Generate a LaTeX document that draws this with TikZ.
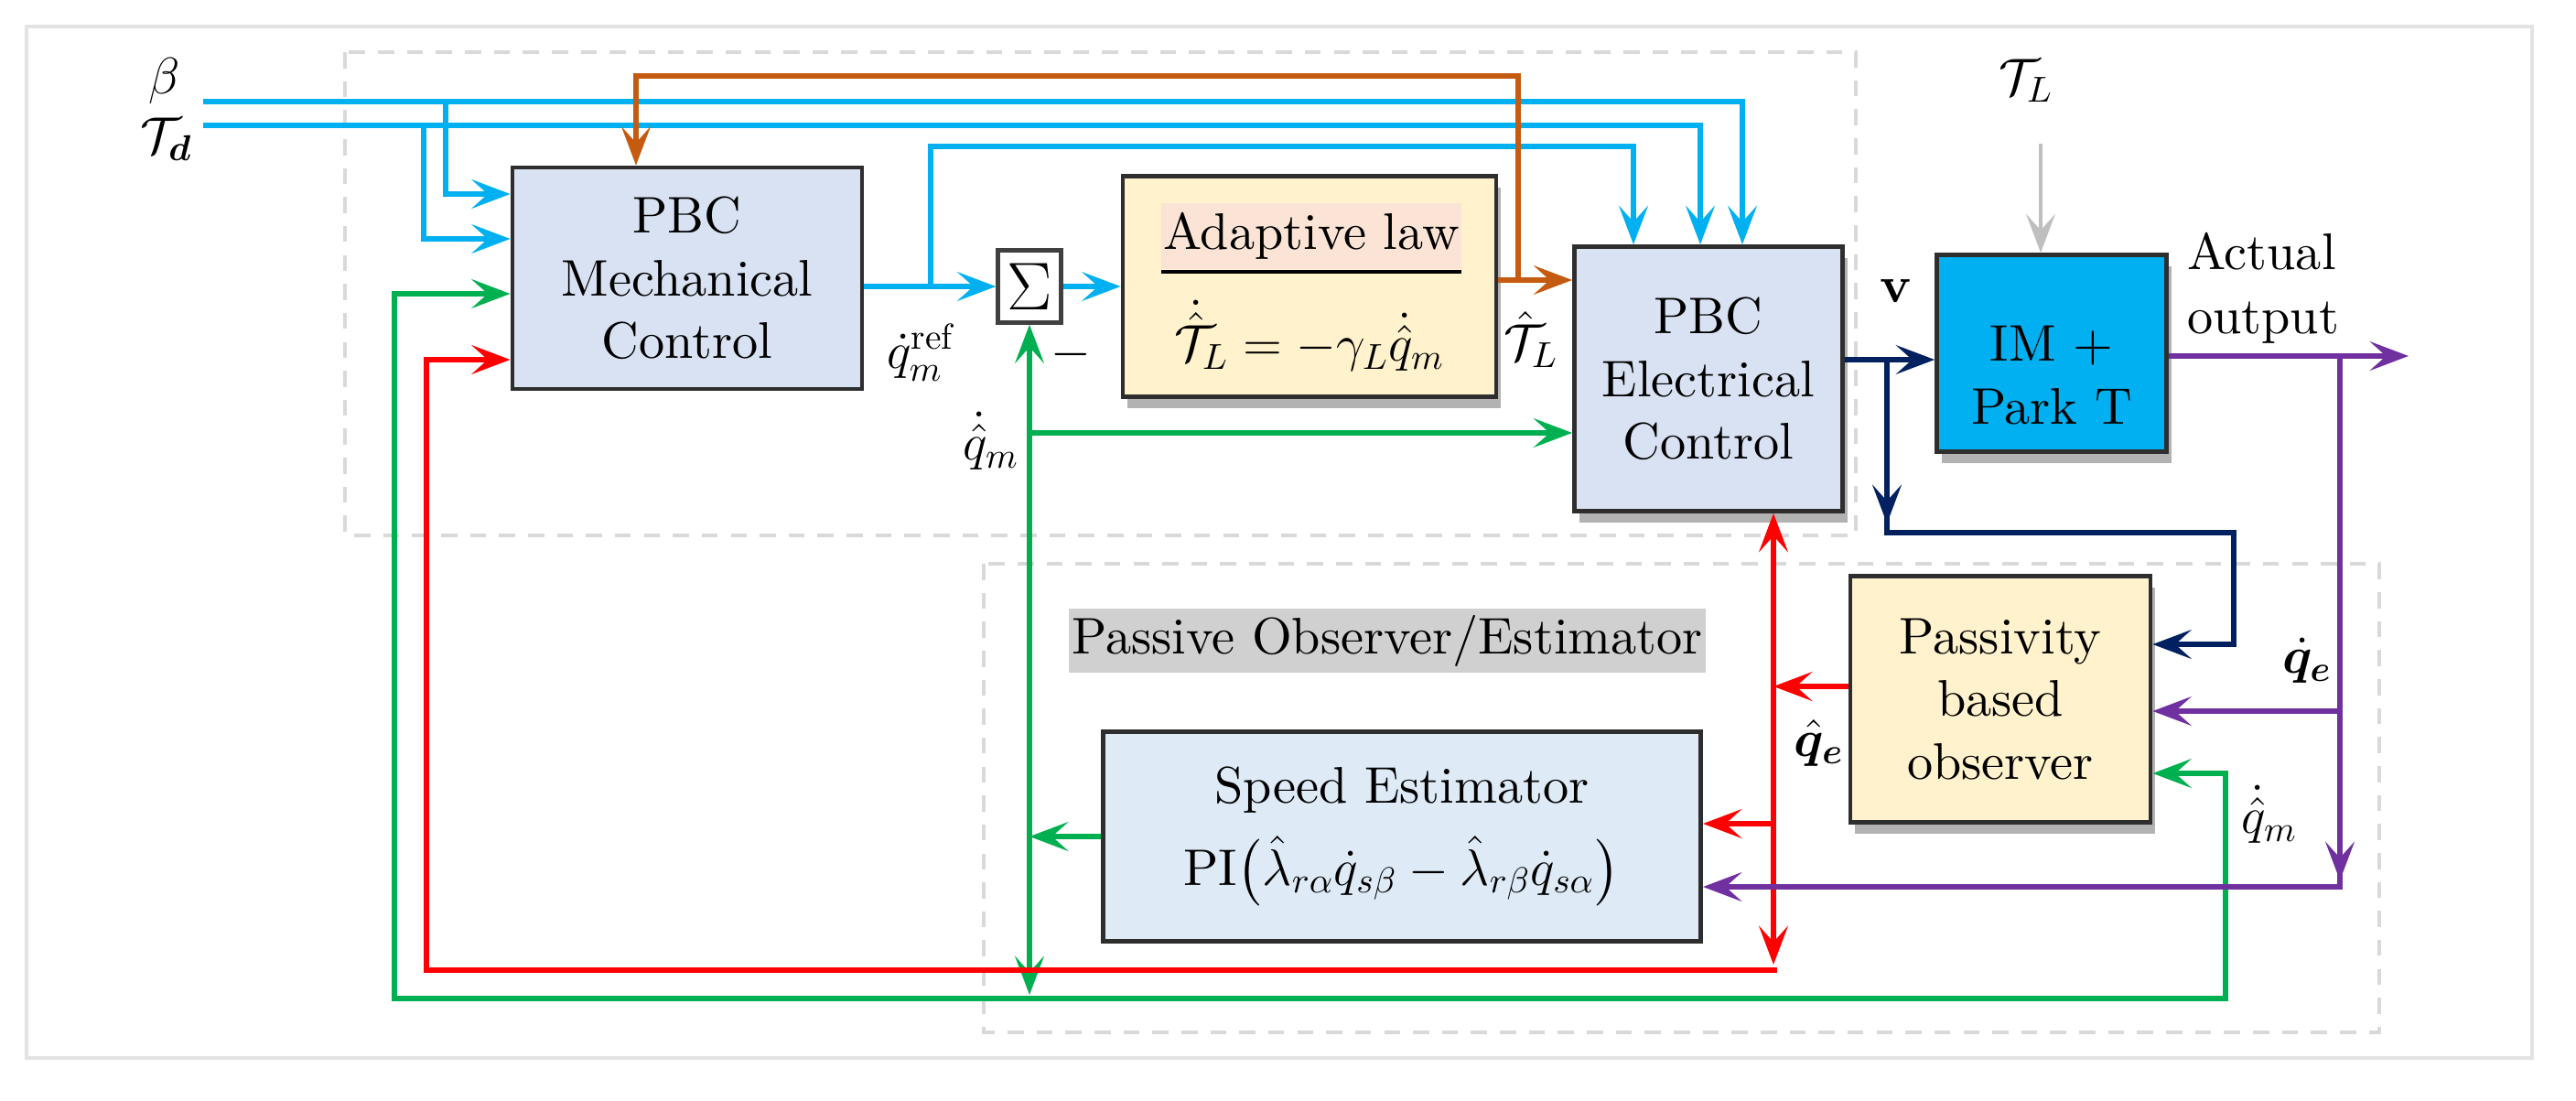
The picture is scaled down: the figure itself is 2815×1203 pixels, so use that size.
\RequirePackage{fix-cm}
\documentclass[tikz,border=0pt]{standalone}
\usepackage{amsmath,bm}
\usepackage{fontspec}
\setmainfont{lmroman10-regular.otf}[BoldFont=lmroman10-bold.otf, ItalicFont=lmroman10-italic.otf]
\usetikzlibrary{arrows.meta,shadows}
\definecolor{cyanL}{HTML}{00B0F0}
\definecolor{orng}{HTML}{C55A11}
\definecolor{grn}{HTML}{00B050}
\definecolor{rdd}{HTML}{FF0000}
\definecolor{navy}{HTML}{002060}
\definecolor{purp}{HTML}{7030A0}
\definecolor{boxblue}{HTML}{D9E2F3}
\definecolor{spdblue}{HTML}{DEEAF6}
\definecolor{cream}{HTML}{FFF2CC}
\definecolor{pinkhl}{HTML}{FBE4D5}
\definecolor{dashgray}{HTML}{D9D9D9}
\definecolor{framegray}{HTML}{E3E3E3}
\definecolor{labelgray}{HTML}{D0D0D0}
\definecolor{tlgray}{HTML}{BFBFBF}
\begin{document}
\begin{tikzpicture}[x=0.01cm,y=-0.01cm,
  txt/.style={font=\fontsize{16}{19.5}\selectfont, inner sep=1pt},
  blk/.style={draw=black!82, line width=1.3pt, align=center, inner sep=0pt, font=\fontsize{16}{19.5}\selectfont},
  shad/.style={drop shadow={shadow xshift=1.5pt, shadow yshift=-3.5pt, opacity=0.3, fill=black}},
  arr/.style={-{Stealth[length=12pt,width=9pt,inset=5pt]}},
  arrboth/.style={{Stealth[length=12pt,width=9pt,inset=5pt]}-{Stealth[length=12pt,width=9pt,inset=5pt]}},
  wire/.style={line width=1.9pt, line join=miter},
  cy/.style={wire, draw=cyanL},
  orw/.style={wire, line width=1.6pt, draw=orng},
  grw/.style={wire, draw=grn},
  rdw/.style={wire, draw=rdd},
  nvw/.style={wire, draw=navy},
  puw/.style={wire, draw=purp},
  gyw/.style={wire, line width=1.2pt, draw=tlgray},
  dashbox/.style={draw=dashgray, line width=1pt, dash pattern=on 5pt off 4pt}
]
\useasboundingbox (0,0) rectangle (2815,1203);
\fill[white] (0,0) rectangle (2815,1203);
% frames
\draw[framegray, line width=1.4pt] (29,29) rectangle (2767,1156);
\draw[dashbox] (377,57) rectangle (2028,585);
\draw[dashbox] (1075,616) rectangle (2600,1128);

% blocks
\node[blk, fill=boxblue, minimum width=3.82cm, minimum height=2.42cm] (mech) at (751,304) {PBC\\Mechanical\\Control};
\node[blk, fill=white, draw=black!75, line width=1.2pt, minimum width=0.69cm, minimum height=0.79cm] (sum) at (1125,313) {\fontsize{21}{21}\selectfont$\Sigma$};
\node[blk, shad, fill=cream, minimum width=4.08cm, minimum height=2.41cm] (adapt) at (1431,313) {};
\node[txt, fill=pinkhl, inner xsep=0pt, inner ysep=3pt, minimum width=3.28cm] (adlab) at (1433,258) {Adaptive law};
\draw[line width=1.3pt] (1269,297) -- (1597,297);
\node[txt] (adform) at (1431,367) {$\dot{\hat{\mathcal{T}}}_L=-\gamma_L\dot{\hat{q}}_m$};
\node[blk, shad, fill=boxblue, minimum width=2.93cm, minimum height=2.89cm] (elec) at (1867,414) {PBC\\Electrical\\Control};
\node[blk, shad, fill=cyanL, minimum width=2.51cm, minimum height=2.15cm] (im) at (2242,386) {};
\node[txt, align=center] (imtxt) at (2242,410) {IM +\\Park T};
\node[blk, shad, fill=cream, minimum width=3.28cm, minimum height=2.69cm] (pbo) at (2186,764) {Passivity\\based\\observer};
\node[blk, fill=spdblue, minimum width=6.53cm, minimum height=2.29cm] (spd) at (1532,914) {Speed Estimator\\[6pt]$\mathrm{PI}\big(\hat{\lambda}_{r\alpha}\dot{q}_{s\beta}-\hat{\lambda}_{r\beta}\dot{q}_{s\alpha}\big)$};
\node[txt, fill=labelgray, inner xsep=1pt, minimum height=0.70cm] (pol) at (1516,700) {Passive Observer/Estimator};

% labels
\node[txt] (beta) at (180,88) {$\beta$};
\node[txt] (td) at (182,152) {$\mathcal{T}_{\bm d}$};
\node[txt] (qref) at (1006,385) {$\dot{q}_m^{\mathrm{ref}}$};
\node[txt] (minus) at (1170,387) {$-$};
\node[txt] (qmh) at (1083,482) {$\dot{\hat{q}}_m$};
\node[txt] (tlh) at (1673,371) {$\hat{\mathcal{T}}_L$};
\node[txt] (tl) at (2214,88) {$\mathcal{T}_L$};
\node[txt] (vv) at (2072,318) {$\mathbf{v}$};
\node[txt, align=left, font=\fontsize{16}{20}\selectfont] (act) at (2473,315) {Actual\\output};
\node[txt] (qeh) at (1988,812) {$\hat{\bm q}_{\bm e}$};
\node[txt] (qed) at (2521,722) {$\dot{\bm q}_{\bm e}$};
\node[txt] (qmh2) at (2480,890) {$\dot{\hat{q}}_m$};

% named points
\coordinate (bin) at (222,111);
\coordinate (tin) at (222,137);
\coordinate (bbr) at (487,111);
\coordinate (tbr) at (463,137);
\coordinate (mbr) at (1017,313);
\coordinate (obr) at (1659,306);
\coordinate (gmid) at (1125,914);
\coordinate (gbot) at (1125,1087);
\coordinate (ghb) at (1125,473);
\coordinate (rbr1) at (1938,750);
\coordinate (rbr2) at (1938,900);
\coordinate (rbot) at (1938,1054);
\coordinate (rcorner) at (1941.5,1060);
\coordinate (nbr) at (2062,393);
\coordinate (pbr) at (2557,389);
\coordinate (pbr2) at (2557,777);
\coordinate (outend) at (2632,389);
\coordinate (tlstart) at (2230,157);

% blue
\draw[cy,arr] (bin) -- (1904,111) -- (elec.north -| 1904,0);
\draw[cy,arr] (tin) -- (1858,137) -- (elec.north -| 1858,0);
\draw[cy,arr] (bbr) |- (mech.west |- 0,212);
\draw[cy,arr] (tbr) |- (mech.west |- 0,261);
\draw[cy,arr] (mech.east |- sum.west) -- (sum.west);
\draw[cy,arr] (mbr) |- (1785,160) -- (elec.north -| 1785,0);
\draw[cy,arr] (sum.east) -- (adapt.west |- sum.east);

% orange
\draw[orw,arr] (adapt.east |- obr) -- (elec.west |- obr);
\draw[orw,arr] (obr) -- (1659,83) -- (695,83) -- (mech.north -| 695,0);

% green
\draw[grw,arr] (spd.west) -- (gmid);
\draw[grw,arr] (gmid) -- (sum.south);
\draw[grw,arr] (gmid) -- (gbot);
\draw[grw,arr] (ghb) -- (elec.west |- ghb);
\draw[grw,arrboth] (mech.west |- 0,321) -- (431,321) -- (431,1091) -- (2432,1091) -- (2432,845) -- (pbo.east |- 0,845);

% red
\draw[rdw,arr] (pbo.west |- rbr1) -- (rbr1);
\draw[rdw,arrboth] (elec.south -| rbot) -- (rbot);
\draw[rdw,arr] (rcorner) -- (466,1060) -- (466,393) -- (mech.west |- 0,393);
\draw[rdw,arr] (rbr2) -- (spd.east |- rbr2);

% navy
\draw[nvw,arr] (elec.east |- nbr) -- (im.west |- nbr);
\draw[nvw,arr] (nbr) -- (2062,582) -- (2441,582) -- (2441,704) -- (pbo.east |- 0,704);
\draw[nvw,arr] (nbr) -- (2062,572);

% purple
\draw[puw,arr] (im.east |- pbr) -- (outend);
\draw[puw,arr] (pbr) -- (2557,969) -- (spd.east |- 0,969);
\draw[puw,arr] (pbr) -- (2557,962);
\draw[puw,arr] (pbr2) -- (pbo.east |- pbr2);

% gray
\draw[gyw,arr] (tlstart) -- (im.north -| tlstart);
\end{tikzpicture}
\end{document}
